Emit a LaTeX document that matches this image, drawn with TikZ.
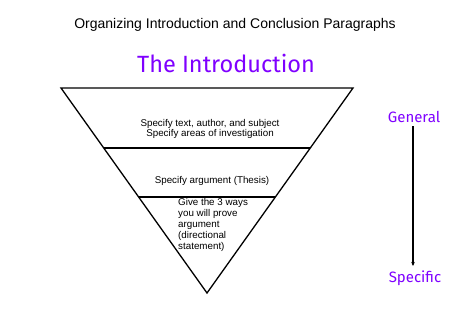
\documentclass[tikz,border=0pt]{standalone}
\usepackage{fontspec}
\usetikzlibrary{arrows.meta}
\setmainfont{Liberation Sans}
\newfontfamily\comicfont{Fira Sans}
\definecolor{violetc}{RGB}{127,0,255}
\begin{document}
\begin{tikzpicture}[x=1pt,y=-1pt,
  edge/.style={draw=black,line width=1.3pt},
  body/.style={font=\fontsize{9.8}{10.8}\selectfont,inner sep=0pt},
  comic/.style={font=\comicfont,text=violetc,inner sep=0pt}]
\useasboundingbox[fill=white] (0,0) rectangle (474,333);
\coordinate (tl) at (61,88);
\coordinate (tr) at (353,88);
\coordinate (ap) at (207,293);
\coordinate (l1) at (103.7,148);
\coordinate (r1) at (310.2,148);
\coordinate (l2) at (138.6,197);
\coordinate (r2) at (275.4,197);
\draw[edge,line join=miter] (tl) -- (tr) -- (ap) -- cycle;
\draw[edge] (l1) -- (r1);
\draw[edge] (l2) -- (r2);
\node[font=\fontsize{14}{16}\selectfont,inner sep=0pt] (title) at (235,25) {Organizing Introduction and Conclusion Paragraphs};
\node[comic,font=\comicfont\fontsize{23.5}{26}\selectfont] (intro) at (226,63) {The Introduction};
\node[body,align=center] (t1) at (210,129) {Specify text, author, and subject\\Specify areas of investigation};
\node[body] (t2) at (212,181) {Specify argument (Thesis)};
\node[body,align=left,anchor=north west] (t3) at (178,198.5) {Give the 3 ways\\you will prove\\argument\\(directional\\statement)};
\node[comic,font=\comicfont\fontsize{15}{17}\selectfont] (gen) at (414,117) {General};
\node[comic,font=\comicfont\fontsize{15}{17}\selectfont] (spec) at (415,278) {Specific};
\coordinate (a1) at (413,126);
\coordinate (a2) at (413,266);
\draw[line width=1.3pt,-{Stealth[length=4pt,width=3.5pt]}] (a1) -- (a2);
\end{tikzpicture}
\end{document}
